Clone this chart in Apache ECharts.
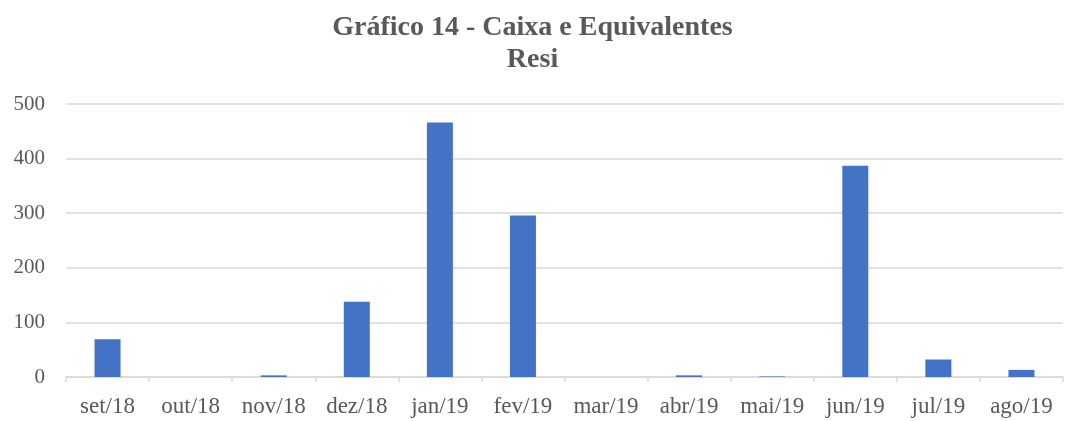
<!DOCTYPE html>
<html>
<head>
<meta charset="utf-8">
<script src="https://cdn.jsdelivr.net/npm/echarts@6/dist/echarts.min.js"></script>
<style>
  html, body { margin: 0; padding: 0; background: #fff; }
  #chart { width: 1065px; height: 421px; }
</style>
</head>
<body>
<div id="chart"></div>
<script>
var months = ['set/18', 'out/18', 'nov/18', 'dez/18', 'jan/19', 'fev/19',
  'mar/19', 'abr/19', 'mai/19', 'jun/19', 'jul/19', 'ago/19'];
var caixa = [69, 0, 3, 138, 466, 296, 0, 3, 1, 387, 32, 13];
var yTicks = [0, 100, 200, 300, 400, 500];

var serif = '"Liberation Serif", "DejaVu Serif", serif';
var myChart = echarts.init(document.getElementById('chart'));

var option = {
  animation: false,
  title: {
    text: 'Gráfico 14 - Caixa e Equivalentes\nResi',
    left: 'center',
    top: 7,
    textStyle: {
      fontFamily: serif,
      fontWeight: 'bold',
      fontSize: 28,
      color: '#595959',
      lineHeight: 32
    }
  },
  grid: {
    left: 66,
    right: 2,
    top: 104,
    bottom: 44
  },
  xAxis: {
    type: 'category',
    data: months,
    axisLine: { lineStyle: { color: '#d9d9d9', width: 1.5 } },
    axisTick: { show: true, length: 5, lineStyle: { color: '#d9d9d9', width: 1.5 } },
    axisLabel: {
      interval: 0,
      hideOverlap: false,
      fontFamily: serif,
      fontSize: 23,
      color: '#595959',
      margin: 18
    }
  },
  yAxis: {
    type: 'value',
    min: yTicks[0],
    max: yTicks[yTicks.length - 1],
    interval: 100,
    axisLine: { show: false },
    axisTick: { show: false },
    splitLine: { lineStyle: { color: '#d9d9d9', width: 1.5 } },
    axisLabel: {
      fontFamily: serif,
      fontSize: 21,
      color: '#595959',
      margin: 21
    }
  },
  series: [{
    name: 'Caixa e Equivalentes',
    type: 'bar',
    data: caixa,
    barWidth: 26,
    itemStyle: { color: '#4472C4' }
  }]
};

myChart.setOption(option);
</script>
</body>
</html>
